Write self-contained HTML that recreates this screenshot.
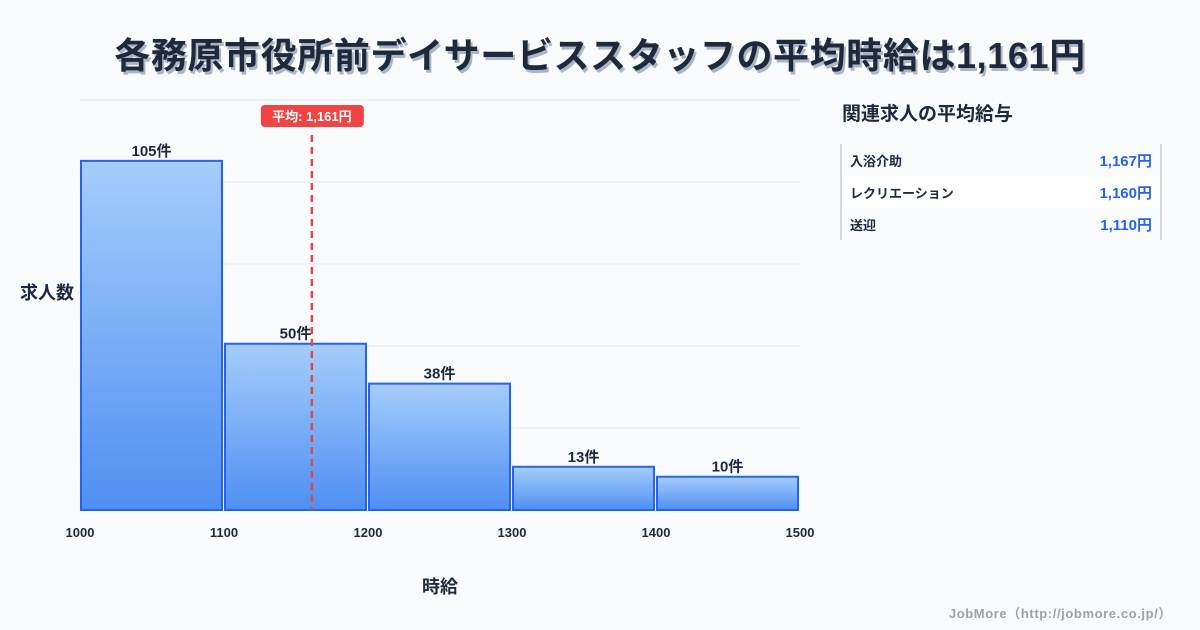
<!DOCTYPE html>
<html><head><meta charset="utf-8">
<style>
body{margin:0;width:1200px;height:630px;background:#f8fafc;font-family:"Liberation Sans","Noto Sans CJK JP",sans-serif;overflow:hidden;position:relative}
.title{position:absolute;left:0;width:1200px;top:27px;text-align:center;font-size:36px;letter-spacing:0.6px;font-weight:bold;color:#1e293b;text-shadow:2px 3px 0 #a9b6c8}
.panel{position:absolute;left:840px;top:100px;width:330px}
.ph{font-size:19px;font-weight:bold;color:#1e293b;margin:0 0 14px 2px;height:30px;line-height:30px}
.list{border-left:2px solid #d1d9e3;border-right:2px solid #d1d9e3;width:318px}
.row{height:32px;display:flex;justify-content:space-between;align-items:center;padding:0 8px 0 8px;font-size:13px;font-weight:bold;color:#1e293b}
.row span:last-child{color:#2563eb;font-size:15px}
.row.w{background:#fff}
.foot{position:absolute;right:28px;top:603px;font-size:13px;font-weight:bold;color:#9aa3ad;letter-spacing:0.6px}
</style></head><body>
<div class="title">各務原市役所前デイサービススタッフの平均時給は1,161円</div>
<svg id="chart" width="1200" height="630" style="position:absolute;left:0;top:0">
<defs><linearGradient id="g" x1="0" y1="0" x2="0" y2="1"><stop offset="0" stop-color="#a5cdfb"/><stop offset="1" stop-color="#4f8ff2"/></linearGradient></defs>
</svg>
<div class="panel">
<div class="ph">関連求人の平均給与</div>
<div class="list">
<div class="row"><span>入浴介助</span><span>1,167円</span></div>
<div class="row w"><span>レクリエーション</span><span>1,160円</span></div>
<div class="row"><span>送迎</span><span>1,110円</span></div>
</div></div>
<div class="foot">JobMore（http://jobmore.co.jp/）</div>
<script>
const binStarts=[1000,1100,1200,1300,1400];
const counts=[105,50,38,13,10];
const xTicks=[1000,1100,1200,1300,1400,1500];
const meanValue=1161;
const meanLabel="平均: 1,161円";
const svg=document.getElementById('chart');const NS='http://www.w3.org/2000/svg';
const X0=80,X1=800,Y0=510,Y1=100,xmin=1000,xmax=1500,ymax=123.3;
const xs=v=>X0+(v-xmin)/(xmax-xmin)*(X1-X0);
const ys=v=>Y0-v/ymax*(Y0-Y1);
function mk(t,a,txt){const e=document.createElementNS(NS,t);for(const k in a)e.setAttribute(k,a[k]);if(txt!=null)e.textContent=txt;svg.appendChild(e);return e;}
for(let i=0;i<=5;i++){const y=Y1+i*(Y0-Y1)/5;const l=mk('line',{x1:X0,x2:X1,y1:y,y2:y,stroke:i==0?'#dbe7f3':'#e5e9ee','stroke-width':1});

}
binStarts.forEach((b,i)=>{const x=xs(b)+1,w=xs(b+100)-xs(b)-3,y=ys(counts[i]);
const r=mk('rect',{x:x,y:y,width:w,height:Y0-y,fill:'url(#g)',stroke:'#2563eb','stroke-width':2});


const t=mk('text',{x:x+w/2,y:y-5,'text-anchor':'middle','font-size':15,'font-weight':'bold',fill:'#1e293b'},counts[i]+'件');

});
xTicks.forEach(v=>{const t=mk('text',{x:xs(v),y:537,'text-anchor':'middle','font-size':13,'font-weight':'bold',fill:'#1e293b'},v);

});
const mx=xs(meanValue);
const ml=mk('line',{x1:mx,x2:mx,y1:135,y2:Y0,stroke:'#e04848','stroke-width':2.5,'stroke-dasharray':'7,5'});


const mb=mk('rect',{x:mx-51,y:105,width:103,height:22,rx:4,fill:'#ef4444'});


const mt=mk('text',{x:mx,y:121,'text-anchor':'middle','font-size':13,'font-weight':'bold',fill:'#fff'},meanLabel);


const yt=mk('text',{x:20,y:299,'font-size':18,'font-weight':'bold',fill:'#1e293b'},'求人数');


const xt=mk('text',{x:440,y:593,'text-anchor':'middle','font-size':18,'font-weight':'bold',fill:'#1e293b'},'時給');


</script>
</body></html>
